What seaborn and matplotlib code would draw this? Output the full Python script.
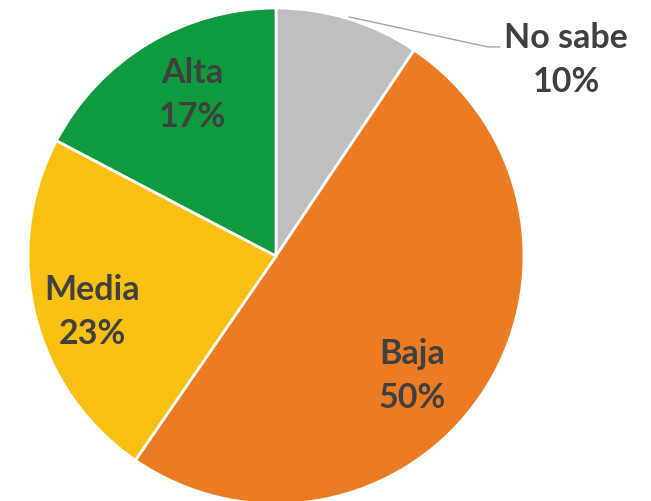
import matplotlib
matplotlib.use("Agg")
import matplotlib.pyplot as plt
import seaborn as sns

categories = ["No sabe", "Baja", "Media", "Alta"]
values = [9.4, 50.2, 23.1, 17.3]
pct_labels = ["10%", "50%", "23%", "17%"]
colors = ["#BFBFBF", "#EB7C24", "#F8C112", "#0F9A3D"]

sns.set_theme(style="white")
plt.rcParams['font.family'] = ['Lato', 'DejaVu Sans']

fig = plt.figure(figsize=(6.51, 5.02), dpi=100)
ax = fig.add_axes([0, 0, 1, 1])
pal = sns.color_palette(colors)
ax.pie(values, colors=pal, startangle=90, counterclock=False, radius=1.0,
       wedgeprops=dict(edgecolor="white", linewidth=2.0))
ax.set_aspect("auto")
R = 248.0
ax.set_xlim(-276 / R, (651 - 276) / R)
ax.set_ylim((257 - 502) / R, 257 / R)
ax.axis("off")

label_pos = {"No sabe": (1.17, 0.794), "Baja": (0.548, -0.480),
             "Media": (-0.742, -0.222), "Alta": (-0.339, 0.653)}
for c, p in zip(categories, pct_labels):
    x, y = label_pos[c]
    ax.text(x, y, f"{c}\n{p}", ha="center", va="center", fontsize=24.5,
            fontweight="bold", color="#404040", linespacing=1.45)

ax.plot([0.294, 0.855, 0.903], [0.964, 0.843, 0.843], color="#A6A6A6", lw=1.0)

fig.savefig("out.png", dpi=100)
